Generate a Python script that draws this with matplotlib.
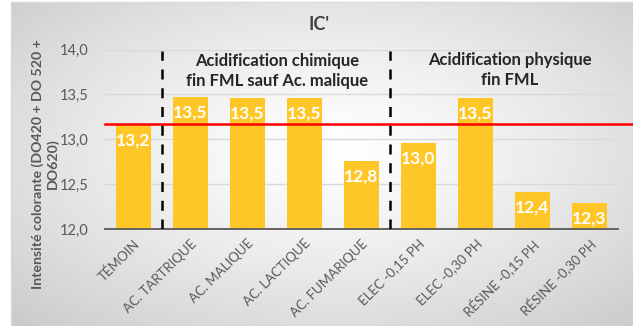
import numpy as np
import matplotlib.pyplot as plt

plt.rcParams['font.family'] = ['Lato', 'DejaVu Sans']

categories = ["TÉMOIN", "AC. TARTRIQUE", "AC. MALIQUE", "AC. LACTIQUE", "AC. FUMARIQUE",
              "ELEC -0,15 PH", "ELEC -0,30 PH", "RÉSINE -0,15 PH", "RÉSINE -0,30 PH"]
valeurs = [13.16, 13.47, 13.46, 13.46, 12.76, 12.96, 13.46, 12.41, 12.29]
reference = 13.175
separations = [0.5, 4.5]
groupes = ["Acidification chimique\nfin FML sauf Ac. malique", "Acidification physique\nfin FML"]

W, H = 633, 326
fig = plt.figure(figsize=(W / 100, H / 100), dpi=100)
fig.patch.set_facecolor("white")

# fond en degrade radial
bg = fig.add_axes([11 / W, 0, (W - 11) / W, (H - 2) / H])
bg.set_axis_off()
xx, yy = np.meshgrid(np.arange(11, W), np.arange(2, H))
r = np.sqrt(((xx - 330) / 320) ** 2 + ((yy - 150) / 170) ** 2) / np.sqrt(2)
r = np.clip(r, 0, 1)
val = (255 - 52 * r ** 1.3) / 255
bg.imshow(np.dstack([val, val, val]), aspect="auto", extent=[0, 1, 0, 1])
bg.set_xlim(0, 1)
bg.set_ylim(0, 1)
bg.plot([0, 1, 1, 0, 0], [1, 1, 0, 0, 1], color="#d9d9d9", lw=1, transform=bg.transAxes, clip_on=False)

ax = fig.add_axes([105 / W, 1 - 229 / H, 513 / W, (229 - 49.6) / H])
ax.patch.set_alpha(0)
x = np.arange(len(categories))
bars = ax.bar(x, [v - 12 for v in valeurs], bottom=12, width=0.6, color="#FFC627", zorder=2)
ax.set_xlim(-0.5, len(categories) - 0.5)
ax.set_ylim(12, 14)
ax.set_yticks([12, 12.5, 13, 13.5, 14])
ax.set_yticklabels(["12,0", "12,5", "13,0", "13,5", "14,0"])
ax.grid(axis="y", color="#d9d9d9", lw=1, zorder=0)
for s in ["top", "right", "left"]:
    ax.spines[s].set_visible(False)
ax.spines["bottom"].set_color("#595959")
ax.spines["bottom"].set_linewidth(1.3)
ax.tick_params(axis="both", length=0, colors="#595959", labelsize=10.5)
ax.tick_params(axis="y", pad=12)
ax.tick_params(axis="x", pad=6)
ax.set_xticks(x)
ax.set_xticklabels(categories, rotation=45, ha="right", rotation_mode="anchor", fontsize=9.5)

for xi, v in zip(x, valeurs):
    ax.annotate(f"{v:.1f}".replace(".", ","), (xi, v), xytext=(0, -11), textcoords="offset points",
                ha="center", va="center", color="white", fontsize=12.5, fontweight="bold", zorder=4)

ax.axhline(reference, xmin=0, xmax=(W - 105) / 513, color="#ff0000", lw=1.8, clip_on=False, zorder=3)
for sx in separations:
    ax.axvline(sx, ymin=0, ymax=0.99, color="black", lw=1.8, dashes=(4, 3.5), zorder=3)

fig.text(319 / W, 1 - 25 / H, "IC'", ha="center", va="center", fontsize=13, fontweight="bold", color="#404040")
fig.text(277 / W, 1 - 71 / H, groupes[0], ha="center", va="center", fontsize=12, fontweight="bold",
         color="#262626", linespacing=1.35)
fig.text(510 / W, 1 - 70 / H, groupes[1], ha="center", va="center", fontsize=12, fontweight="bold",
         color="#262626", linespacing=1.35)
fig.text(45 / W, 1 - 164 / H, "Intensité colorante (DO420 + DO 520 +\nDO620)", ha="center", va="center",
         rotation=90, fontsize=10.2, fontweight="bold", color="#595959", linespacing=1.15)

fig.savefig("out.png", dpi=100)
